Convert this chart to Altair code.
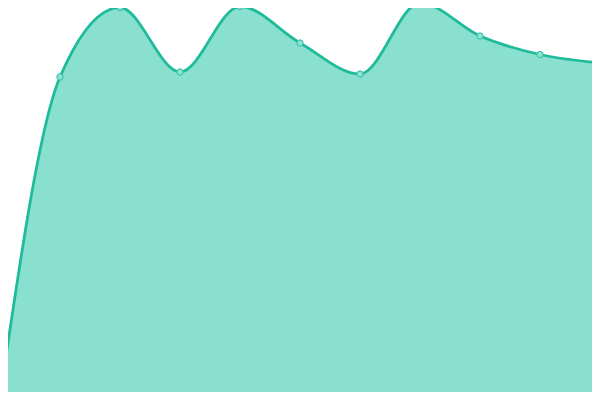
import altair as alt
import pandas as pd

xs = [0, 1, 2, 3, 4, 5, 6, 7, 8, 9, 10]
values = [3, 323, 392.5, 328, 393.5, 357, 326, 397, 364, 345.5, 337]

df = pd.DataFrame({"x": xs, "v": values})

# page pixel = 8 (body margin) + plot pixel
xsc = alt.Scale(domain=[0, 10], range=[-8, 592], nice=False, zero=False)
ysc = alt.Scale(domain=[0, 400], range=[392, -8], nice=False, zero=False)

base = alt.Chart(df).encode(
    x=alt.X("x:Q", scale=xsc, axis=None),
    y=alt.Y("v:Q", scale=ysc, axis=None),
)

area = base.mark_area(interpolate="monotone", color="#89e0cf", opacity=1)
line = base.mark_line(interpolate="monotone", color="#1fbb9b", strokeWidth=2.8)
pts = base.mark_point(filled=True, size=40, fill="#8fe2d1",
                      stroke="#2cc0a2", strokeWidth=1, opacity=1)

chart = (area + line + pts).properties(
    width=584, height=384, padding=0,
    autosize=alt.AutoSizeParams(type="none")
).configure_view(stroke=None)

chart.save("out.html", embed_options={"renderer": "svg", "actions": False})
